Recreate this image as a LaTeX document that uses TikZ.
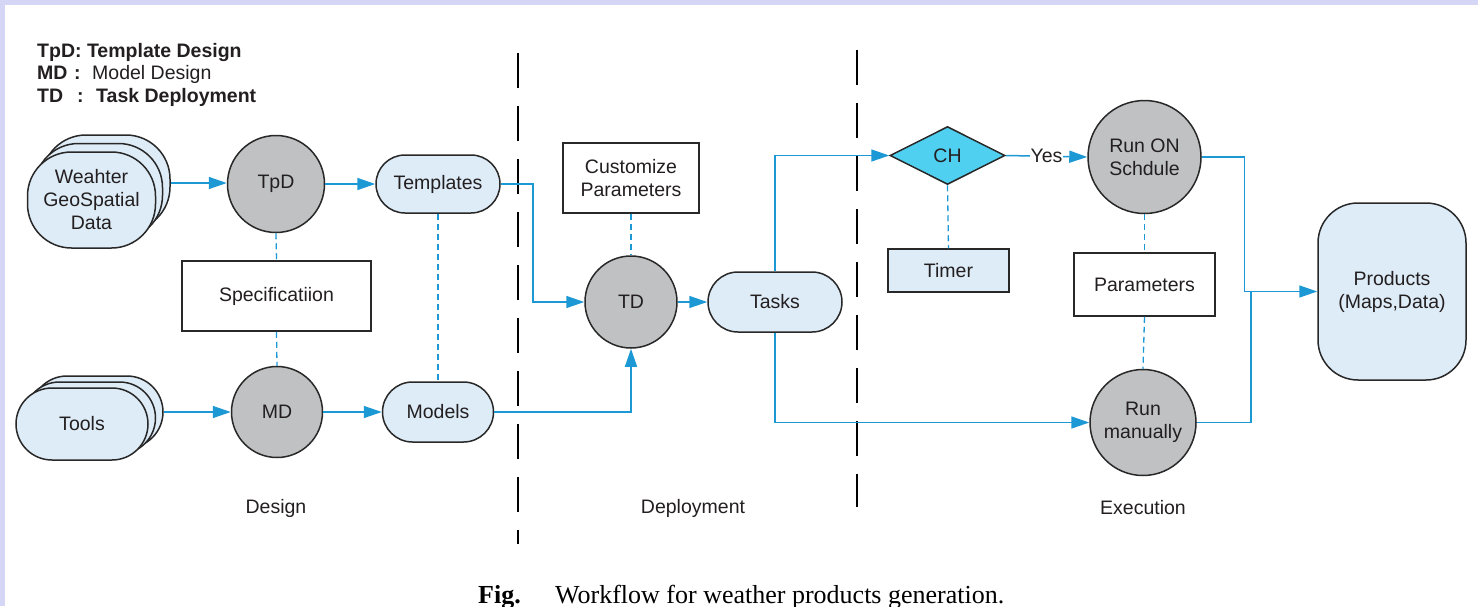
\documentclass[tikz,border=0pt]{standalone}
\usepackage{fontspec}
\setmainfont{Liberation Sans}
\newfontfamily\capfont{Liberation Serif}
\usetikzlibrary{arrows.meta,shapes.geometric}
\definecolor{lav}{RGB}{213,213,245}
\definecolor{flow}{RGB}{28,152,212}
\definecolor{lblue}{RGB}{222,236,247}
\definecolor{gcirc}{RGB}{191,193,194}
\definecolor{cyanf}{RGB}{80,208,240}
\definecolor{txt}{RGB}{35,31,32}
\definecolor{edge}{RGB}{40,40,40}
\begin{document}
\begin{tikzpicture}[x=1pt,y=-1pt,
  every node/.style={font=\fontsize{19.5}{23}\selectfont, text=txt, align=center, inner sep=0pt},
  proc/.style={circle, draw=edge, line width=1.5pt, fill=gcirc, minimum size=#1},
  pill/.style n args={3}{rectangle, draw=edge, line width=1.5pt, fill=lblue, minimum width=#1, minimum height=#2, rounded corners=#3},
  boxn/.style n args={2}{rectangle, draw=edge, line width=1.5pt, fill=white, minimum width=#1, minimum height=#2},
  boxb/.style n args={2}{rectangle, draw=edge, line width=1.5pt, fill=lblue, minimum width=#1, minimum height=#2},
  legb/.style={anchor=base west, font=\fontsize{19.5}{23}\selectfont\bfseries},
  legr/.style={anchor=base west},
  link/.style={draw=flow, line width=1.5pt},
  arr/.style={draw=flow, line width=1.5pt, -{Triangle[length=18pt,width=12pt]}},
  dlink/.style={draw=flow, line width=1.3pt, dash pattern=on 6pt off 4pt},
  sepl/.style={draw=black, line width=2.6pt, dash pattern=on 35pt off 18pt},
  lab/.style={font=\fontsize{19.5}{23}\selectfont}
]
\useasboundingbox (0,0) rectangle (1478,606);
\fill[lav] (0,0) rectangle (1478,606);
\fill[white] (5,5) rectangle (1478,606);

% legend
\node[legb] (lg1) at (37,57) {TpD: Template Design};
\node[legb] (lg2a) at (37,79) {MD};
\node[legb] (lg2b) at (74,79) {:};
\node[legr] (lg2c) at (92,79) {Model Design};
\node[legb] (lg3a) at (37,102) {TD};
\node[legb] (lg3b) at (77,102) {:};
\node[legb] (lg3c) at (96,102) {Task Deployment};

% separators
\draw[sepl] (518,53) -- (518,544);
\draw[sepl] (857,50) -- (857,507);

% stacked inputs
\node[pill={128pt}{96pt}{44pt}] (w3) at (106,183) {};
\node[pill={128pt}{96pt}{44pt}] (w2) at (98.5,191.5) {};
\node[pill={128pt}{96pt}{44pt}] (w) at (91.5,200) {Weahter\\GeoSpatial\\Data};
\node[pill={132pt}{72pt}{36pt}] (t3) at (97,412) {};
\node[pill={132pt}{72pt}{36pt}] (t2) at (89.5,418) {};
\node[pill={132pt}{72pt}{36pt}] (t) at (82,424) {Tools};

% design
\node[proc=97pt] (tpd) at (276,184) {TpD};
\node[proc=91pt] (md) at (277,412) {MD};
\node[pill={124pt}{58pt}{29pt}] (tmpl) at (438,184) {Templates};
\node[pill={111pt}{60pt}{30pt}] (models) at (438,412) {Models};
\node[boxn={189pt}{70pt}] (spec) at (276.5,296) {Specificatiion};

% deployment
\node[boxn={136pt}{70pt}] (cust) at (631,178) {Customize\\Parameters};
\node[proc=92pt] (td) at (631,302) {TD};
\node[pill={134pt}{60pt}{30pt}] (tasks) at (775,302) {Tasks};

% execution
\node[diamond, draw=edge, line width=1.5pt, fill=cyanf, minimum width=115pt, minimum height=58pt, aspect=2] (ch) at (947.5,155.5) {CH};
\node[boxb={121pt}{43pt}] (timer) at (948.5,270.5) {Timer};
\node[proc=113pt] (runon) at (1144.5,157) {Run ON\\Schdule};
\node[boxn={141pt}{63pt}] (params) at (1144.5,284.5) {Parameters};
\node[proc=106pt] (runm) at (1143,422.5) {Run\\manually};
\node[pill={148pt}{177pt}{40pt}] (prod) at (1392,291.5) {Products\\(Maps,Data)};
\coordinate (jn) at (1251,291.5);

% connectors
\draw[arr] (w3.east) -- (tpd.west |- w3.east);
\draw[arr] (t3.east) -- (md.west |- t3.east);
\draw[arr] (tpd.east) -- (tmpl.west);
\draw[arr] (md.east) -- (models.west);
\draw[arr] (tmpl.east) -- ++(32,0) |- (td.west);
\draw[arr] (models.east) -| (td.south);
\draw[arr] (td.east) -- (tasks.west);
\draw[arr] (tasks.north) |- (ch.west);
\draw[arr] (tasks.south) |- (runm.west);
\draw[arr] (ch.east) -- node[fill=white, inner sep=1pt] (yes) {Yes} (runon.west);
\draw[arr] (runon.east) -- ++(42.5,0) |- (prod.west);
\draw[link] (runm.east) -| (jn);

% dashed relations
\draw[dlink] (tpd.south) -- (spec.north);
\draw[dlink] (spec.south) -- (md.north);
\draw[dlink] (tmpl.south) -- (models.north);
\draw[dlink] (cust.south) -- (td.north);
\draw[dlink] (ch.south) -- (timer.north);
\draw[dlink] (runon.south) -- (params.north);
\draw[dlink] (params.south) -- (runm.north);

% phase labels
\node[lab] (l1) at (276,508) {Design};
\node[lab] (l2) at (693,508) {Deployment};
\node[lab] (l3) at (1143,508) {Execution};

% caption
\node[anchor=base west, text=black, font=\capfont\fontsize{26}{30}\selectfont\bfseries] (figl) at (478,603) {Fig.};
\node[anchor=base west, text=black, font=\capfont\fontsize{26}{30}\selectfont] (cap) at (555,603) {Workflow for weather products generation.};
\end{tikzpicture}
\end{document}
